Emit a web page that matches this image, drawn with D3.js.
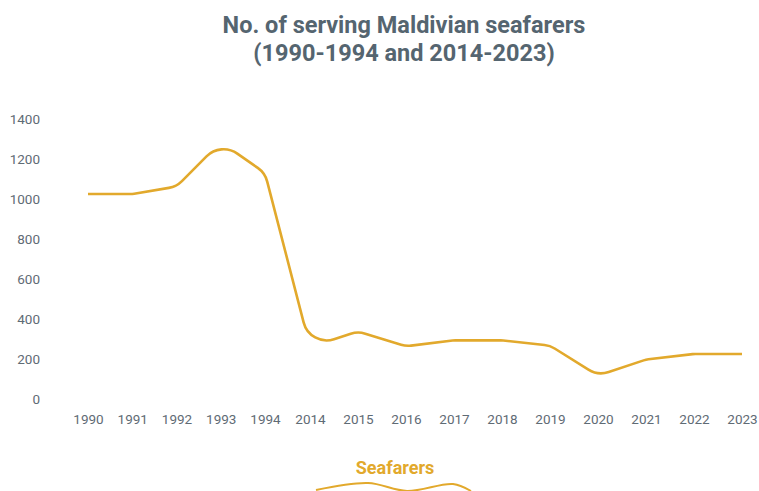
<!DOCTYPE html>
<html>
<head>
<meta charset="utf-8">
<script src="https://cdn.jsdelivr.net/npm/d3@7"></script>
<style>
  html, body { margin: 0; padding: 0; background: #fff; }
  svg { display: block; font-family: Roboto, "Noto Sans", sans-serif; }
</style>
</head>
<body>
<div id="chart"></div>
<script>
const years = ["1990", "1991", "1992", "1993", "1994", "2014", "2015", "2016",
  "2017", "2018", "2019", "2020", "2021", "2022", "2023"];
const seafarers = [1025, 1025, 1062, 1285, 1130, 260, 338, 264, 293, 293, 267, 117, 197, 225, 225];
const yTicks = [0, 200, 400, 600, 800, 1000, 1200, 1400];
const titleLines = ["No. of serving Maldivian seafarers", "(1990-1994 and 2014-2023)"];
const seriesName = "Seafarers";

const width = 759;
const height = 491;
const lineColor = "#e2a92c";
const textColor = "#5f6b75";
const cornerRadius = 24;

const svg = d3.select("#chart")
  .append("svg")
  .attr("width", width)
  .attr("height", height);

// the category spacing in the reference is a bit tighter for the early years
const x = d3.scaleLinear()
  .domain([0, 4, 5, years.length - 1])
  .range([88, 265, 310, 742]);

const y = d3.scaleLinear()
  .domain([0, 1400])
  .range([399, 119]);

// straight segments joined by arcs of a fixed radius
const curveRounded = (context) => {
  let pts = [];
  return {
    areaStart() {},
    areaEnd() {},
    lineStart() { pts = []; },
    point(px, py) { pts.push([+px, +py]); },
    lineEnd() {
      if (!pts.length) return;
      context.moveTo(pts[0][0], pts[0][1]);
      for (let i = 1; i < pts.length - 1; i++) {
        const [x0, y0] = pts[i - 1];
        const [x1, y1] = pts[i];
        const [x2, y2] = pts[i + 1];
        const lIn = Math.hypot(x1 - x0, y1 - y0);
        const lOut = Math.hypot(x2 - x1, y2 - y1);
        const a1 = Math.atan2(y1 - y0, x1 - x0);
        const a2 = Math.atan2(y2 - y1, x2 - x1);
        let turn = Math.abs(a2 - a1);
        if (turn > Math.PI) turn = 2 * Math.PI - turn;
        const t = Math.tan(turn / 2);
        if (t < 1e-6) {
          context.lineTo(x1, y1);
          continue;
        }
        const maxCut = Math.min(lIn, lOut) / 2;
        const r = Math.min(cornerRadius, maxCut / t);
        context.arcTo(x1, y1, x2, y2, r);
      }
      const last = pts[pts.length - 1];
      context.lineTo(last[0], last[1]);
    },
  };
};

svg.append("g")
  .attr("class", "title")
  .selectAll("text")
  .data(titleLines)
  .join("text")
  .attr("x", 404)
  .attr("y", (d, i) => 32.5 + i * 28)
  .attr("text-anchor", "middle")
  .attr("font-size", 23.5)
  .attr("font-weight", "bold")
  .attr("fill", "#556570")
  .text((d) => d);

const yAxis = svg.append("g")
  .attr("transform", "translate(40,0)")
  .call(d3.axisLeft(y).tickValues(yTicks).tickSize(0).tickPadding(0).tickFormat(d3.format("d")));
yAxis.select(".domain").remove();
yAxis.selectAll("text")
  .attr("font-size", 13.5)
  .attr("font-family", "Roboto, sans-serif")
  .attr("fill", textColor);

const xAxis = svg.append("g")
  .attr("transform", "translate(0,414)")
  .call(d3.axisBottom(x).tickValues(d3.range(years.length)).tickSize(0).tickPadding(0)
    .tickFormat((i) => years[i]));
xAxis.select(".domain").remove();
xAxis.selectAll("text")
  .attr("font-size", 13.5)
  .attr("font-family", "Roboto, sans-serif")
  .attr("fill", textColor);

const line = d3.line()
  .x((d, i) => x(i))
  .y((d) => y(d))
  .curve(curveRounded);

svg.append("path")
  .datum(seafarers)
  .attr("fill", "none")
  .attr("stroke", lineColor)
  .attr("stroke-width", 2.6)
  .attr("stroke-linejoin", "round")
  .attr("d", line);

// legend
const legend = svg.append("g").attr("transform", "translate(395,0)");
legend.append("text")
  .attr("x", 0)
  .attr("y", 473.5)
  .attr("text-anchor", "middle")
  .attr("font-size", 18)
  .attr("font-weight", "bold")
  .attr("fill", lineColor)
  .text(seriesName);

// wavy legend symbol, partly cut by the bottom edge
const wave = [[-79, 490], [-27, 483], [12, 491], [58, 484], [76, 491]];
legend.append("path")
  .datum(wave)
  .attr("fill", "none")
  .attr("stroke", lineColor)
  .attr("stroke-width", 2)
  .attr("d", d3.line().curve(d3.curveCatmullRom));
</script>
</body>
</html>
